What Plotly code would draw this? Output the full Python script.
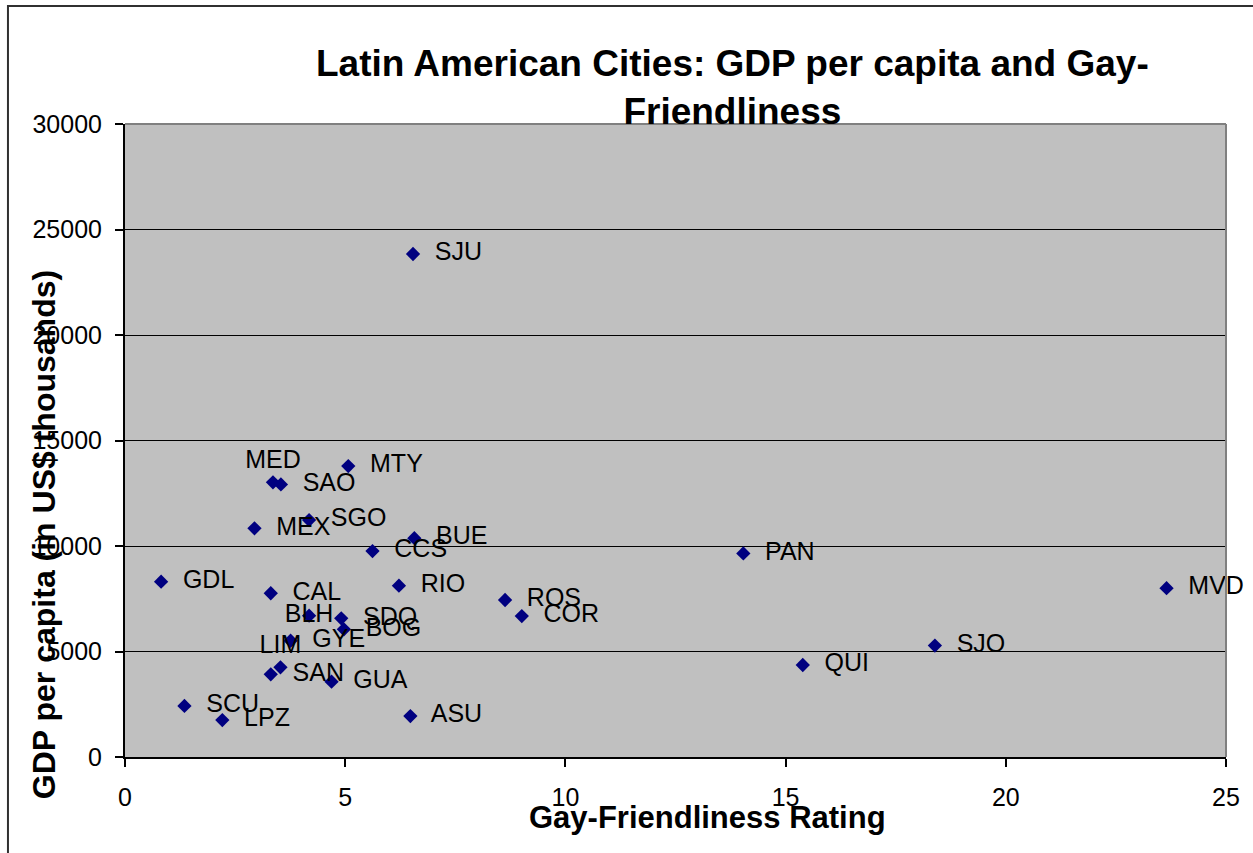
import plotly.graph_objects as go

# ---- data ----
cities = ["SJU", "MTY", "MED", "SAO", "SGO", "MEX", "BUE", "CCS", "PAN", "GDL",
          "RIO", "MVD", "CAL", "ROS", "BLH", "COR", "SDQ", "BOG", "GYE", "SJO",
          "QUI", "LIM", "SAN", "GUA", "SCU", "ASU", "LPZ"]
gay_friendliness = [6.54, 5.07, 3.36, 3.54, 4.18, 2.94, 6.57, 5.62, 14.04, 0.82,
                    6.22, 23.65, 3.31, 8.63, 4.18, 9.01, 4.91, 4.97, 3.76, 18.39,
                    15.39, 3.53, 3.31, 4.69, 1.35, 6.48, 2.21]
gdp_per_capita = [23840, 13790, 13020, 12920, 11230, 10840, 10370, 9760, 9650, 8310,
                  8120, 8000, 7760, 7440, 6700, 6680, 6570, 6050, 5510, 5280,
                  4360, 4250, 3920, 3570, 2420, 1940, 1750]
x_ticks = [0, 5, 10, 15, 20, 25]
y_ticks = [0, 5000, 10000, 15000, 20000, 25000, 30000]

# ---- label placement styles ----
special_pos = {"MED": "top center", "LIM": "top center", "BLH": "middle center"}
positions = [special_pos.get(c, "middle right") for c in cities]
texts = [c if c in special_pos else "  " + c for c in cities]

FONT = "Arial, Liberation Sans, sans-serif"

fig = go.Figure()
fig.add_trace(go.Scatter(
    x=gay_friendliness, y=gdp_per_capita, mode="markers+text",
    text=texts, textposition=positions,
    textfont=dict(family=FONT, size=25, color="black"),
    marker=dict(symbol="diamond", size=11, color="#000080"),
    showlegend=False, cliponaxis=False,
))

fig.update_layout(
    width=1253, height=853,
    margin=dict(l=125, r=27, t=124, b=96),
    paper_bgcolor="white", plot_bgcolor="#C0C0C0",
    font=dict(family=FONT, color="black"),
    xaxis=dict(range=[0, 25], tickvals=x_ticks, showgrid=False, zeroline=False,
               showline=True, linecolor="black", linewidth=2,
               ticks="outside", ticklen=8, tickcolor="black", tickwidth=1.5,
               tickfont=dict(family=FONT, size=25, color="black"),
               ticklabelstandoff=9),
    yaxis=dict(range=[0, 30000], tickvals=y_ticks, tickformat="d",
               showgrid=True, gridcolor="black", gridwidth=1, zeroline=False,
               showline=True, linecolor="black", linewidth=2,
               ticks="outside", ticklen=8, tickcolor="black", tickwidth=1.5,
               tickfont=dict(family=FONT, size=25, color="black"),
               ticklabelstandoff=8),
    shapes=[
        dict(type="line", xref="paper", yref="paper", x0=0, x1=1, y0=1, y1=1,
             line=dict(color="#808080", width=2), layer="above"),
        dict(type="line", xref="paper", yref="paper", x0=1, x1=1, y0=0, y1=1,
             line=dict(color="#808080", width=2), layer="above"),
        dict(type="rect", xref="paper", yref="paper", x0=-0.1063, x1=1.2,
             y0=-0.4, y1=1.1864, line=dict(color="#303030", width=2),
             layer="below"),
    ],
    annotations=[
        dict(text="<b>Latin American Cities: GDP per capita and Gay-<br>Friendliness</b>",
             xref="paper", yref="paper", x=0.552, y=1.057,
             xanchor="center", yanchor="middle", showarrow=False,
             font=dict(family=FONT, size=37, color="black")),
        dict(text="<b>Gay-Friendliness Rating</b>",
             xref="paper", yref="paper", x=0.5295, y=-0.095,
             xanchor="center", yanchor="middle", showarrow=False,
             font=dict(family=FONT, size=31, color="black")),
        dict(text="<b>GDP per capita (in US$ thousands)</b>",
             xref="paper", yref="paper", x=-0.0736, y=0.352, textangle=-90,
             xanchor="center", yanchor="middle", showarrow=False,
             font=dict(family=FONT, size=32, color="black")),
    ],
)

fig.write_html("out.html", config={"displayModeBar": False},
               post_script="document.body.style.margin='0';")
